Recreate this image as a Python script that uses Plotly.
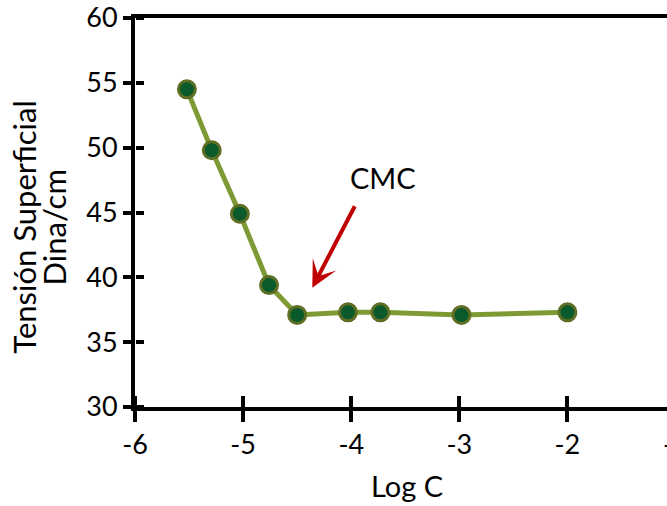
import plotly.graph_objects as go

log_c = [-5.52, -5.29, -5.03, -4.76, -4.50, -4.03, -3.73, -2.98, -2.00]
tension = [54.5, 49.8, 44.9, 39.4, 37.1, 37.3, 37.3, 37.1, 37.3]
x_ticks = [-6, -5, -4, -3, -2]
x_tick_text = ["-6", "-5", "-4", "-3", "-2"]
y_ticks = [30, 35, 40, 45, 50, 55, 60]
y_tick_text = ["30", "35", "40", "45", "50", "55", "60"]

FONT = "Lato"
X_RANGE = [-6, -1.079]
Y_RANGE = [30, 60]

fig = go.Figure()
fig.add_trace(go.Scatter(
    x=log_c, y=tension, mode="lines+markers",
    line=dict(color="#7e9a34", width=5),
    marker=dict(size=17, color="#0b5a2b", line=dict(color="#5e6e24", width=3)),
    hoverinfo="skip", showlegend=False,
))
# invisible trace for the helper axes (tick halves pointing into the plot)
fig.add_trace(go.Scatter(
    x=log_c, y=tension, mode="markers", xaxis="x2", yaxis="y2",
    marker=dict(opacity=0), hoverinfo="skip", showlegend=False,
))

axis_common = dict(showgrid=False, zeroline=False)
fig.update_layout(
    width=667, height=506,
    margin=dict(l=135, r=0, t=14, b=99),
    paper_bgcolor="white", plot_bgcolor="white",
    font=dict(family=FONT, color="black", size=27),
    xaxis=dict(range=X_RANGE, tickvals=x_ticks, ticktext=x_tick_text, ticks="outside",
               ticklen=11, tickwidth=4, tickcolor="black", showline=True, linecolor="black",
               linewidth=4, mirror=True, tickfont=dict(size=27), **axis_common),
    yaxis=dict(range=Y_RANGE, tickvals=y_ticks, ticktext=y_tick_text, ticks="outside",
               ticklen=8, tickwidth=4, tickcolor="black", showline=True, linecolor="black",
               linewidth=4, tickfont=dict(size=27), ticklabeloverflow="allow",
               **axis_common),
    xaxis2=dict(range=X_RANGE, tickvals=x_ticks, ticks="outside", ticklen=11, tickwidth=4,
                tickcolor="black", showticklabels=False, showline=False,
                overlaying="x", side="top", anchor="free", position=0, **axis_common),
    yaxis2=dict(range=Y_RANGE, tickvals=y_ticks, ticks="outside", ticklen=8, tickwidth=4,
                tickcolor="black", showticklabels=False, showline=False,
                overlaying="y", side="right", anchor="free", position=0, **axis_common),
    annotations=[
        dict(text="Log C", xref="paper", yref="paper", x=0.511, y=-0.203,
             xanchor="center", yanchor="middle", showarrow=False, font=dict(size=29)),
        dict(text="Tensión Superficial", xref="paper", yref="paper", x=-0.208, y=0.462,
             xanchor="center", yanchor="middle", textangle=-90, showarrow=False,
             font=dict(size=31)),
        dict(text="Dina/cm", xref="paper", yref="paper", x=-0.152, y=0.462,
             xanchor="center", yanchor="middle", textangle=-90, showarrow=False,
             font=dict(size=31)),
        dict(text="-1", xref="paper", yref="paper", x=1.016, y=-0.094,
             xanchor="center", yanchor="middle", showarrow=False, font=dict(size=27)),
        dict(text="CMC", x=-3.705, y=47.7, xref="x", yref="y", showarrow=False,
             font=dict(size=29)),
        dict(text="", x=-4.36, y=39.2, ax=-3.96, ay=45.6, xref="x", yref="y",
             axref="x", ayref="y", showarrow=True, arrowhead=3, arrowsize=1.1,
             arrowwidth=4, arrowcolor="#c00000"),
    ],
)

fig.write_html("out.html")
